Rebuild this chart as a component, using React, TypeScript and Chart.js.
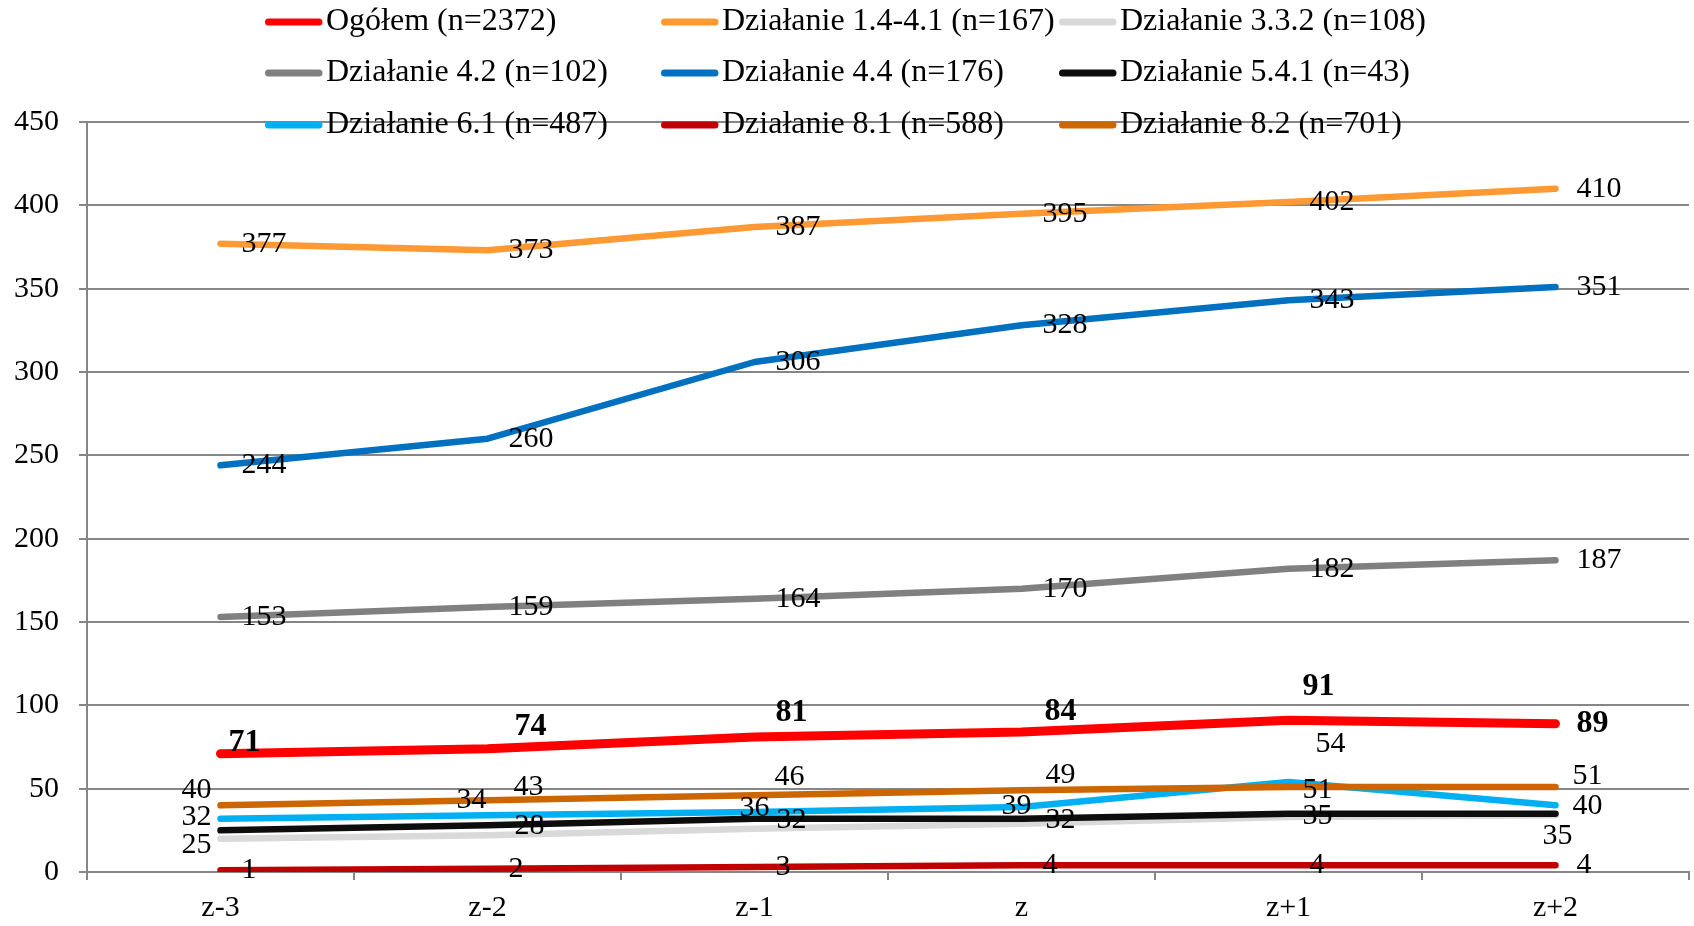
import React, { useEffect, useRef } from "react";
import { Chart, registerables } from "chart.js";

Chart.register(...registerables);

const categories = ["z-3", "z-2", "z-1", "z", "z+1", "z+2"];

const seriesNames = [
  "Ogółem (n=2372)",
  "Działanie 1.4-4.1 (n=167)",
  "Działanie 3.3.2 (n=108)",
  "Działanie 4.2 (n=102)",
  "Działanie 4.4 (n=176)",
  "Działanie 5.4.1 (n=43)",
  "Działanie 6.1 (n=487)",
  "Działanie 8.1 (n=588)",
  "Działanie 8.2 (n=701)",
];

const ogolem = [71, 74, 81, 84, 91, 89];
const dz141 = [377, 373, 387, 395, 402, 410];
const dz332 = [20, 22, 26, 29, 33, 34];
const dz42 = [153, 159, 164, 170, 182, 187];
const dz44 = [244, 260, 306, 328, 343, 351];
const dz541 = [25, 28, 32, 32, 35, 35];
const dz61 = [32, 34, 36, 39, 54, 40];
const dz81 = [1, 2, 3, 4, 4, 4];
const dz82 = [40, 43, 46, 49, 51, 51];

const yTicksMax = 450;
const yTicksStep = 50;

const seriesValues = [ogolem, dz141, dz332, dz42, dz44, dz541, dz61, dz81, dz82];
const seriesColors = [
  "#FF0000",
  "#FF9933",
  "#D9D9D9",
  "#808080",
  "#0070C0",
  "#0D0D0D",
  "#00B0F0",
  "#C00000",
  "#CC6600",
];
const seriesWidths = [9, 6.5, 6.5, 6.5, 6.5, 6.5, 6.5, 6.5, 6.5];
const seriesShowLabels = [true, true, false, true, true, true, true, true, true];
const seriesBoldLabels = [true, false, false, false, false, false, false, false, false];

// label placement: null = to the right of the point; otherwise [dx, dy] of label centre
const labelPlacement: (Array<[number, number] | null> | null)[] = [
  [[24, -11], [43, -22], [37, -24], [39, -20], [30, -34], null],
  null,
  null,
  null,
  null,
  [[-24, 15], [42, 1], [37, 1], [39, 1], [29, 2], [2, 22]],
  [[-24, -2], [-16, -15], [0, -4], [-5, -1], [42, -38], [32, 1]],
  null,
  [[-24, -15], [41, -13], [35, -18], [39, -15], [29, 3], [32, -11]],
];

const FONT = "'Liberation Serif', 'Times New Roman', serif";
const FONT_SIZE = 30;
const LEGEND_FONT_SIZE = 32;
const BOLD_FONT_SIZE = 32;
const GRID = "#868686";

const dataLabelPlugin = {
  id: "dataLabels",
  afterDatasetsDraw(chart: any) {
    const ctx = chart.ctx;
    ctx.save();
    ctx.fillStyle = "#000";
    ctx.textBaseline = "middle";
    ctx.textAlign = "center";
    chart.data.datasets.forEach((ds: any, di: number) => {
      if (!seriesShowLabels[di]) return;
      const meta = chart.getDatasetMeta(di);
      ctx.font = seriesBoldLabels[di]
        ? `bold ${BOLD_FONT_SIZE}px ${FONT}`
        : `${FONT_SIZE}px ${FONT}`;
      meta.data.forEach((pt: any, i: number) => {
        const text = String(ds.data[i]);
        const w = ctx.measureText(text).width;
        const place = labelPlacement[di] ? labelPlacement[di]![i] : null;
        let x: number, y: number;
        if (place) {
          x = pt.x + place[0];
          y = pt.y + place[1];
        } else {
          x = pt.x + 21 + w / 2;
          y = pt.y;
        }
        ctx.fillText(text, x, y);
      });
    });
    ctx.restore();
  },
};

const legendPlugin = {
  id: "customLegend",
  afterDraw(chart: any) {
    const ctx = chart.ctx;
    const colX = [265, 661, 1059];
    const rowY = [22, 73, 125];
    ctx.save();
    ctx.font = `${LEGEND_FONT_SIZE}px ${FONT}`;
    ctx.textBaseline = "middle";
    ctx.textAlign = "left";
    seriesNames.forEach((name, i) => {
      const x0 = colX[i % 3];
      const y0 = rowY[Math.floor(i / 3)];
      ctx.strokeStyle = seriesColors[i];
      ctx.lineWidth = 7;
      ctx.lineCap = "round";
      ctx.beginPath();
      ctx.moveTo(x0 + 3.5, y0);
      ctx.lineTo(x0 + 54, y0);
      ctx.stroke();
      ctx.fillStyle = "#000";
      ctx.fillText(name, x0 + 61, y0);
    });
    ctx.restore();
  },
};

export default function App() {
  const canvasRef = useRef<HTMLCanvasElement | null>(null);

  useEffect(() => {
    if (!canvasRef.current) return;
    const n = seriesValues.length;
    const chart = new Chart(canvasRef.current, {
      type: "line",
      data: {
        labels: categories,
        datasets: seriesValues.map((vals, i) => ({
          label: seriesNames[i],
          data: vals,
          borderColor: seriesColors[i],
          backgroundColor: seriesColors[i],
          borderWidth: seriesWidths[i],
          pointRadius: 0,
          tension: 0,
          fill: false,
          borderCapStyle: "round" as const,
          borderJoinStyle: "round" as const,
          order: n - i,
        })),
      },
      options: {
        responsive: false,
        animation: false,
        layout: { padding: { top: 122, right: 5, left: 0, bottom: 0 } },
        plugins: {
          legend: { display: false },
          tooltip: { enabled: false },
        },
        scales: {
          x: {
            type: "category",
            offset: true,
            grid: {
              offset: true,
              drawOnChartArea: false,
              drawTicks: true,
              tickLength: 8,
              color: GRID,
              lineWidth: 2,
            },
            border: { display: true, color: GRID, width: 2 },
            ticks: {
              color: "#000",
              font: { family: FONT, size: FONT_SIZE },
              padding: 10,
              maxRotation: 0,
            },
            afterFit: (s: any) => {
              s.height = 54;
            },
          },
          y: {
            min: 0,
            max: yTicksMax,
            grid: {
              color: GRID,
              lineWidth: 2,
              tickLength: 8,
              drawTicks: true,
            },
            border: { display: true, color: GRID, width: 2 },
            ticks: {
              stepSize: yTicksStep,
              color: "#000",
              font: { family: FONT, size: FONT_SIZE },
              padding: 20,
            },
            afterFit: (s: any) => {
              s.width = 87;
            },
          },
        },
      },
      plugins: [dataLabelPlugin, legendPlugin],
    });
    return () => chart.destroy();
  }, []);

  return (
    <div style={{ position: "absolute", left: 0, top: 0, width: 1694, height: 926, background: "#fff" }}>
      <canvas ref={canvasRef} width={1694} height={926} style={{ display: "block" }} />
    </div>
  );
}
